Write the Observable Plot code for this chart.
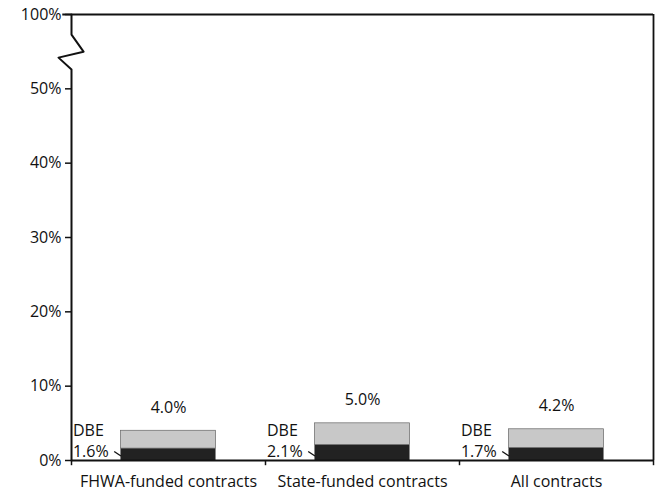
<!DOCTYPE html>
<html>
<head>
<meta charset="utf-8">
<script src="https://cdn.jsdelivr.net/npm/d3@7"></script>
<script src="https://cdn.jsdelivr.net/npm/@observablehq/plot@0.6"></script>
<style>
  html, body { margin: 0; padding: 0; background: #fff; }
  svg { display: block; }
</style>
</head>
<body>
<div id="chart"></div>
<script>
// Data
const categories = ["FHWA-funded contracts", "State-funded contracts", "All contracts"];
const totalValues = [4.0, 5.0, 4.2];
const dbeValues = [1.6, 2.1, 1.7];
const totalLabels = ["4.0%", "5.0%", "4.2%"];
const dbeLabels = ["1.6%", "2.1%", "1.7%"];
const yTicks = [0, 10, 20, 30, 40, 50, 60];
const yTickLabels = ["0%", "10%", "20%", "30%", "40%", "50%", "100%"];
const xBoundaries = [0, 1, 2, 3];

// Build table
const rows = categories.map((c, i) => ({
  cat: c, i, total: totalValues[i], dbe: dbeValues[i],
  totalLabel: totalLabels[i], dbeLabel: dbeLabels[i]
}));
const barL = 0.255, barR = 0.745;

// axis break (in scale units: x in category units, y in percent units)
const axisPath = [
  {x: 0, y: 60}, {x: 0, y: 57.3}, {x: 0.062, y: 55.0},
  {x: -0.067, y: 54.2}, {x: 0, y: 52.6}, {x: 0, y: 0}
];

const font = "'Open Sans', 'DejaVu Sans', sans-serif";

const plot = Plot.plot({
  width: 656,
  height: 492,
  marginLeft: 71,
  marginRight: 3,
  marginTop: 14,
  marginBottom: 32,
  style: {fontFamily: font, fontSize: "16px", color: "#111", background: "#fff"},
  x: {type: "linear", domain: [0, 3], axis: null},
  y: {type: "linear", domain: [0, 60], axis: null},
  marks: [
    // bars
    Plot.rect(rows, {x1: d => d.i + barL, x2: d => d.i + barR, y1: 0, y2: "dbe", fill: "#222"}),
    Plot.rect(rows, {x1: d => d.i + barL, x2: d => d.i + barR, y1: "dbe", y2: "total", fill: "#c8c8c8", stroke: "#666", strokeWidth: 0.7}),
    // frame: top, right, bottom
    Plot.ruleY([60], {x1: -0.045, x2: 3, stroke: "#111", strokeWidth: 1.8}),
    Plot.ruleX([3], {y1: 0, y2: 60, stroke: "#111", strokeWidth: 1.8}),
    Plot.ruleY([0], {x1: 0, x2: 3, stroke: "#111", strokeWidth: 1.8}),
    // y axis with break
    Plot.line(axisPath, {x: "x", y: "y", stroke: "#111", strokeWidth: 2, curve: "linear"}),
    // y ticks
    Plot.axisY({ticks: yTicks, tickFormat: (d) => yTickLabels[yTicks.indexOf(d)], tickSize: 6, tickPadding: 4, fontSize: 16, label: null, strokeWidth: 1.5}),
    // x ticks at category boundaries
    Plot.ruleX(xBoundaries, {y1: 0, y2: -0.7, stroke: "#111", strokeWidth: 1.5}),
    // category labels
    Plot.text(rows, {x: d => d.i + 0.5, y: 0, text: "cat", dy: 21, fontSize: 16}),
    // total labels
    Plot.text(rows, {x: d => d.i + 0.5, y: "total", text: "totalLabel", dy: -23, fontSize: 16}),
    // DBE labels
    Plot.text(rows, {x: d => d.i + barL, y: 0, text: () => "DBE", dx: -48, dy: -30, textAnchor: "start", fontSize: 16}),
    Plot.text(rows, {x: d => d.i + barL, y: 0, text: "dbeLabel", dx: -48, dy: -9, textAnchor: "start", fontSize: 16}),
    // leader lines
    Plot.link(rows, {x1: d => d.i + barL - 0.035, y1: 1.2, x2: d => d.i + barL, y2: 0.6, stroke: "#111", strokeWidth: 1.3})
  ]
});

document.getElementById("chart").appendChild(plot);
</script>
</body>
</html>
